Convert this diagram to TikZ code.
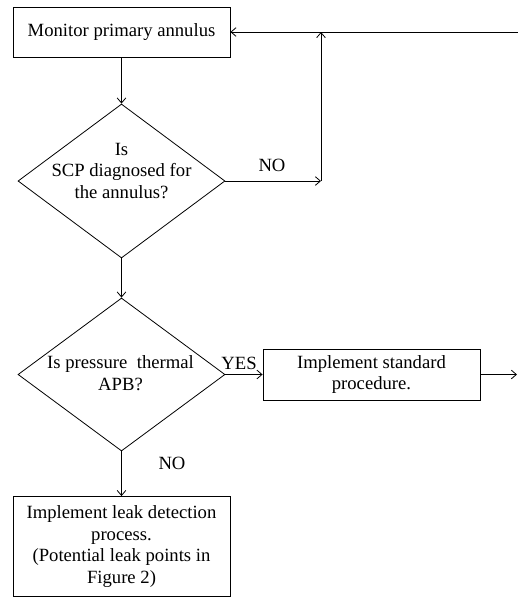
\documentclass[tikz,border=0pt]{standalone}
\usepackage{fontspec}
\setmainfont{Liberation Serif}
\usetikzlibrary{shapes.geometric,arrows.meta}
\begin{document}
\begin{tikzpicture}[x=0.75pt,y=-0.75pt,
  font=\fontsize{14pt}{16.25pt}\selectfont,
  line width=0.6pt,
  >={Straight Barb[length=3.8pt,width=6.5pt]},
  procbox/.style={draw, rectangle, inner sep=0pt, align=center},
  decbox/.style={draw, diamond, inner sep=0pt, minimum width=155.25pt, minimum height=115.5pt},
  txt/.style={inner sep=0pt, align=center}]
\useasboundingbox (0,0) rectangle (518,597);
% nodes
\node[procbox, minimum width=162.75pt, minimum height=37.5pt] (b1) at (121.5,32) {Monitor primary annulus};
\node[decbox] (d1) at (121.5,181) {};
\node[txt] (d1t) at (121.5,171) {Is\\SCP diagnosed for\\the annulus?};
\node[decbox, minimum height=114.75pt] (d2) at (121.5,374.5) {};
\node[txt] (d2t) at (120.5,373) {Is pressure~ thermal\\APB?};
\node[procbox, minimum width=162.75pt, minimum height=38.25pt] (b2) at (371.5,374.5) {Implement standard\\procedure.};
\node[procbox, minimum width=162.75pt, minimum height=75pt] (b3) at (121.5,546.5) {Implement leak detection\\process.\\(Potential leak points in\\Figure 2)};
% labels
\node[txt] (no1) at (272,165) {NO};
\node[txt] (yes) at (239,363) {YES};
\node[txt] (no2) at (172,463) {NO};
% coordinates
\coordinate (c1) at (321,181);
\coordinate (c2) at (321,32);
\coordinate (cR) at (518,32);
\coordinate (cR2) at (517,374.5);
% connectors
\draw[->] (b1.south) -- (d1.north);
\draw[->] (d1.east) -- (c1);
\draw[->] (c1) -- (c2);
\draw[->] (cR) -- (b1.east);
\draw[->] (d1.south) -- (d2.north);
\draw[->] (d2.east) -- (b2.west);
\draw[->] (b2.east) -- (cR2);
\draw[->] (d2.south) -- (b3.north);
\end{tikzpicture}
\end{document}
